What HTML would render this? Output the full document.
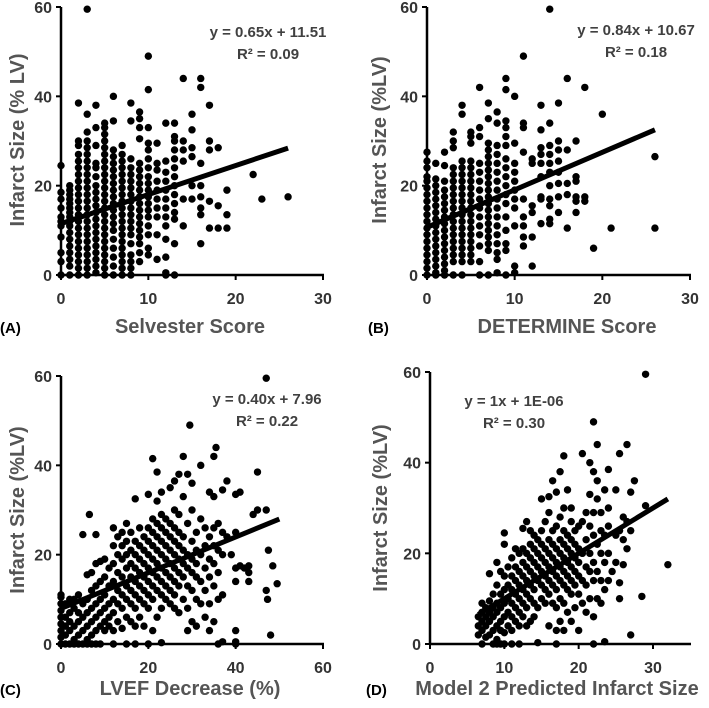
<!DOCTYPE html>
<html><head><meta charset="utf-8">
<style>
html,body{margin:0;padding:0;background:#fff;}
svg{display:block;font-family:"Liberation Sans",sans-serif;font-weight:bold;}
</style></head>
<body>
<svg id="fig" width="709" height="708" viewBox="0 0 709 708" xmlns="http://www.w3.org/2000/svg"></svg>
<script>
// ---------- data ----------
const selvesterScores = [0,1,2,3,4,5,6,7,8,9,10,11,12,13,14,15,16,17,18,19,22,23,26];
const selvesterInfarct = [
 [0,3,5,8.5,11,12,13,15,17,18.5,24.5],
 [0,2,3.5,5,6.5,8,9.5,11,12,13,14,15,16,17,18,19,20],
 [0,1.5,3,4.5,6,7.5,9,10.5,12,13.5,15,16.5,18,19.5,21,22.5,24,25.5,27,29,30,38.5],
 [0,1.5,3,4.5,6,7.5,9,10.5,12,13.5,15,16.5,18,19.5,21,22.5,24,25.5,27,28.5,30,32,36,59.5],
 [0.5,2,3.5,5,6.5,8,9.5,11,12.5,14,15.5,17,18.5,20,22,24,25,29,33,38],
 [0,1.5,3,4.5,6,7.5,9,10.5,12,13.5,15,16.5,18,19.5,21,22.5,24,25.5,27,28.5,30,31.5,33,34],
 [0,2,4,6,8,10,11.5,13,14.5,16,17.5,19,20.5,22,23.5,25,26.5,28,34.5,40],
 [0,1.5,3,4.5,6,7.5,9,10.5,12,13.5,15,16.5,18,19.5,21,22.5,24,25.5,27,29],
 [0,1.5,3,4.5,7,9,10.5,12,13.5,15,16.5,18,19.5,21,22.5,24,26,34.5,38.5],
 [3,5,7,8.5,10,11.5,13,14.5,16,17.5,19,20.5,22,23.5,25,30.5,33,35,36.5],
 [4.5,6,9,11,13,14.5,16,17.5,19,20.5,22,24,26,28,29.5,33,41.5,49],
 [3.5,9,13,15,17,19,21,23.5,25,29.5],
 [0,0.5,4,8,11,13,15,17,19,21,23,25.5,34],
 [0,7,12.5,14,16,18,20,22,24,26,28,30,31,34],
 [11,17,25.5,28,30,44],
 [17,20,26.5,28.5,32.5,36],
 [7,13.5,15,17.5,20,25,42,44],
 [10.5,16.5,28,30,38],
 [10.5,15.5,28.5],
 [10.5,13.5,19],
 [22.5],[17],[17.5]
];
const selvesterFit = [0.65, 11.51, 0, 26];

const determineScores = [0,1,2,3,4,5,6,7,8,9,10,11,12,13,14,15,16,17,18,19,20,21,26];
const determineInfarct = [
 [0,1.5,3,4.5,6,7.5,9,10.5,12,13.5,15,16.5,18,19.5,21,22,24,25.5,27.5],
 [0,0.5,2,3.5,5,6.5,8,9.5,11,12.5,14,15.5,17,18.5,20,21.5,25],
 [0,1,2.5,4,5.5,7,8.5,10,11.5,13,14.5,16,17.5,19,21,24.5,27.5],
 [0,3,4.5,6,7.5,9,10.5,12,13.5,15,16.5,18,19.5,21,22.5,24,28.5,30,32],
 [0,3,4.5,6,7.5,9,10.5,12,13.5,15,16.5,18,19.5,21,22.5,24,25.5,36,38],
 [3,4.5,6,7.5,9,10.5,12,13.5,15,16.5,18,19.5,21,22.5,24,25.5,29.5,31,32],
 [0,3,6.5,9,11,13,15,17,19,21,23,25,31,33,42],
 [0,5.5,7,8.5,10,11.5,13,14.5,16,17.5,19,20.5,22,23.5,25,26.5,28,29.5,35,38.5],
 [0.5,3.5,5,7,9,11,13,15,17,19,21,23,25,27,29,34,36.5],
 [0,5.5,7,10,13,16,18,20,22,24,26,29,31,33,34.5,41.5,44],
 [0.5,2,11,15,17,19,21,23,25,29.5,40],
 [6.5,8.5,11,13,17,27.5,33,34,49],
 [2,8.5,14,15.5,25,26],
 [11.5,17,17.5,22,25,27,28.5,32.5,38],
 [11.5,12.5,15.5,17,20,23,25,27,29,34,59.5],
 [14,17.5,20.5,23,25.5,28,30,38.5],
 [10.5,18,20.5,28,44],
 [14,16.5,17.5,21,22,30],
 [16.5,17.5,42],
 [6],[36],[10.5],[10.5,26.5]
];
const determineFit = [0.84, 10.67, 0, 26];

const lvefPoints = [
[0,0],[0,1.5],[0,3],[0,4.5],[0,6],[0,7.5],[0,9],[0,10.5],[0,11],
[1,0],[2,0],[3,0],[4,0],[5,0],[6,0],[7,0],[8,0],[9,0],[12,0],[15,0],[17,0],[20,0],[23,0.3],[36,0],[37,0.5],[40,0],[40,0.5],
[1,2],[1,4],[1,6],[1,9],[2,3],[2,5],[2,7],[2,10],[3,1],[3,4],[3,8],[3,10],[4,2],[4,5],[4,7],[4,11],[5,3],[5,6],[5,9],[5,24.5],
[6,1],[6,4],[6,7],[6,10],[6,15.5],[6.5,29],[7,2],[7,5],[7,8],[7,12],[7,16],[8,3],[8,6],[8,9],[8,13],[8,18],[8,24.5],
[9,4],[9,7],[9,10],[9,14],[9,18.5],[10,3],[10,5],[10,8],[10,11],[10,15],[10,19],[11,4],[11,6],[11,9],[11,13],[11,17],
[12,3],[12,7],[12,10],[12,14],[12,18],[12,22],[12,26],[13,5],[13,9],[13,12],[13,16],[13,20],[13,24],
[14,3.5],[14,8],[14,11],[14,15],[14,19],[14,22],[14,25],[15,6],[15,10],[15,13],[15,17],[15,20],[15,23],[15,27],
[16,5],[16,9],[16,12],[16,15],[16,18],[16,21],[16,25],[17,4],[17,8],[17,11],[17,14],[17,17],[17,20],[17,23],[17,32.5],
[18,6],[18,10],[18,13],[18,16],[18,19],[18,22],[18,26],[19,4],[19,9],[19,12],[19,15],[19,18],[19,21],[19,24],
[20,8],[20,11],[20,14],[20,17],[20,20],[20,23],[20,26],[20,33.5],[21,3],[21,10],[21,13],[21,16],[21,19],[21,22],[21,25],[21,28],[21,41.5],
[22,6],[22,12],[22,15],[22,18],[22,21],[22,24],[22,27],[22,32],[22,38.5],[23,8],[23,11],[23,14],[23,17],[23,20],[23,23],[23,26],[23,29],[23,34],
[24,10],[24,13],[24,16],[24,19],[24,22],[24,25],[24,28],[25,9],[25,12],[25,15],[25,18],[25,21],[25,24],[25,27],[25,35],
[26,8],[26,11],[26,14],[26,17],[26,20],[26,23],[26,26],[26,30],[26,36.5],[27,7],[27,13],[27,16],[27,19],[27,22],[27,25],[27,29],[27,38],
[28,10],[28,15],[28,18],[28,21],[28,24],[28,33],[28,42],[29,3],[29,8],[29,13],[29,17],[29,20],[29,27],[29,38],[29.5,49],
[30,5],[30,12],[30,16],[30,19],[30,23],[30,30],[30,36],[31,4],[31,10],[31,15],[31,18],[31,21],[31,25],
[32,9],[32,14],[32,20],[32,28],[32,40],[33,6],[33,12],[33,17],[33,22],[33,26],[34,3],[34,9],[34,15],[34,19],[34,24],[34,34],
[35,5],[35,13],[35,18],[35,22],[35,26],[35,33],[35,42],[35.5,44],[36,10],[36,16],[36,21],[36,27],[37,11],[37,20],[37,25],[37,34.5],
[38,24],[38,36.5],[39,20],[40,3],[40,14],[40,17],[40,25],[40,33.5],[41,17.5],[41,34],[42,17],[43,14],[43,16],[43,17.5],
[44,29],[45,30],[45,38.5],[47,12],[47,30],[47.3,10],[47,59.5],[47.5,21],[48,2],[48.5,17.5],[49.5,13.5]
];
const lvefFit = [0.40, 7.96, 0, 50];

const modelPoints = [
[7,0],[8.5,0],[9,0],[9.5,0],[10,0],[11,0],[12,0],[14.5,0.3],[17,0],[22,0],[23.5,0.5],[27,2],
[6.5,2],[6.5,4],[6.5,6],[7,3],[7,5],[7,7],[7,9],[7.5,1.5],[7.5,4],[7.5,6],[7.5,8],[8,2],[8,5],[8,7],[8,9.5],[8,15.5],
[8.5,3],[8.5,6],[8.5,8],[8.5,11],[9,1],[9,4],[9,7],[9,9],[9,13],[9,18],[9.5,3],[9.5,5],[9.5,8],[9.5,11],[9.5,16],
[10,2.5],[10,6],[10,9],[10,12],[10,15],[10,22],[10,24.5],[10.5,4],[10.5,7],[10.5,10],[10.5,13],[10.5,17],
[11,3],[11,6],[11,9],[11,12],[11,15],[11,19],[11.5,5],[11.5,8],[11.5,11],[11.5,14],[11.5,17],[11.5,21],
[12,4],[12,7],[12,10],[12,13],[12,16],[12,20],[12.5,6],[12.5,9],[12.5,12],[12.5,15],[12.5,18],[12.5,21],[12.5,25.5],
[13,4],[13,8],[13,11],[13,14],[13,17],[13,20],[13,27],[13.5,5],[13.5,10],[13.5,13],[13.5,16],[13.5,19],[13.5,22],[13.5,25],
[14,6],[14,9],[14,12],[14,15],[14,18],[14,21],[14,24],[14.5,8],[14.5,14],[14.5,17],[14.5,20],[14.5,23],
[15,10],[15,13],[15,16],[15,19],[15,22],[15,25],[15,32],[15.5,9],[15.5,12],[15.5,15],[15.5,18],[15.5,21],[15.5,27],
[16,4],[16,11],[16,14],[16,17],[16,20],[16,23],[16,29],[16,32.5],[16.5,9],[16.5,13],[16.5,16],[16.5,19],[16.5,22],[16.5,25],[16.5,36],
[17,3],[17,8],[17,12],[17,15],[17,18],[17,21],[17,26],[17,33.5],[17.5,5],[17.5,10],[17.5,14],[17.5,17],[17.5,20],[17.5,23],[17.5,28],[17.5,38],
[18,3],[18,9],[18,13],[18,16],[18,19],[18,22],[18,25],[18,30],[18,41.5],[18.5,7],[18.5,12],[18.5,15],[18.5,18],[18.5,21],[18.5,24],[18.5,34],
[19,5],[19,11],[19,14],[19,17],[19,20],[19,23],[19,27],[19,30],[19.5,8],[19.5,13],[19.5,16],[19.5,19],[19.5,22],[19.5,25],
[20,3],[20,11],[20,15],[20,18],[20,21],[20,26],[20.5,9],[20.5,14],[20.5,20],[20.5,27],[20.5,42],[21,7],[21,13],[21,17],[21,23],[21,29],
[21.5,10],[21.5,16],[21.5,20],[21.5,26],[21.5,33],[21.5,40],[22,6],[22,14],[22,18],[22,24],[22,29],[22,38],[22,49],
[22.5,10],[22.5,16],[22.5,22],[22.5,32],[22.5,36],[22.5,44],[23,9],[23,14],[23,20],[23,25],[23,29],[23.5,12],[23.5,18],[23.5,24],[23.5,34],
[24,14],[24,20],[24,26],[24,30],[24,38.5],[24.5,16],[25,18],[25,24],[25,34],[25.5,13.5],[25.5,10],[25.5,25],[25.5,42],
[26,17.5],[26,23],[26,28],[26.5,21],[26.5,27],[26.5,44],[27,25],[27,33.5],[27.5,36],[28.5,10.5],[29,30.5],[29,59.5],[32,17.5]
];
const modelFit = [1, 0.000001, 6.5, 32];

const xTicksScore = [0,10,20,30];
const xTicksLvef = [0,20,40,60];
const yTicks = [0,20,40,60];

// ---------- drawing ----------
const NS = "http://www.w3.org/2000/svg";
const svg = document.getElementById('fig');
function mk(tag, attrs, parent) {
  const e = document.createElementNS(NS, tag);
  for (const k in attrs) e.setAttribute(k, attrs[k]);
  (parent || svg).appendChild(e);
  return e;
}

function panel(p) {
  const g = mk('g', {});
  
  
  const sx = v => p.x0 + (v - p.xmin) / (p.xmax - p.xmin) * (p.x1 - p.x0);
  const sy = v => p.y0 - v / 60 * (p.y0 - p.y1);
  const pg = mk('g', {}, g);
  
  
  for (const [x, y] of p.points) {
    const c = mk('circle', {cx: sx(x), cy: sy(y), r: 3.7, fill: '#000'}, pg);
    
    
  }
  const ya = mk('line', {x1: p.x0, y1: sy(0) + 1, x2: p.x0, y2: sy(60), stroke: '#000', 'stroke-width': 2.5}, g);
  
  
  const xa = mk('line', {x1: p.x0 - 1, y1: sy(0), x2: p.xend, y2: sy(0), stroke: '#000', 'stroke-width': 2.5}, g);
  
  
  for (const t of yTicks) {
    mk('line', {x1: p.x0 - 5, y1: sy(t), x2: p.x0, y2: sy(t), stroke: '#000', 'stroke-width': 2}, g);
    const tl = mk('text', {x: p.x0 - 9, y: sy(t) + 6, 'text-anchor': 'end', 'font-size': 16, fill: '#333'}, g);
    tl.textContent = t;
    
    
  }
  for (const t of p.xticks) {
    mk('line', {x1: sx(t), y1: sy(0), x2: sx(t), y2: sy(0) + 5, stroke: '#000', 'stroke-width': 2}, g);
    const tl = mk('text', {x: sx(t), y: sy(0) + 29, 'text-anchor': 'middle', 'font-size': 16, fill: '#333'}, g);
    tl.textContent = t;
    
    
  }
  const [m, b, xa0, xa1] = p.fit;
  const tr = mk('line', {x1: sx(xa0), y1: sy(m * xa0 + b), x2: sx(xa1), y2: sy(m * xa1 + b), stroke: '#000', 'stroke-width': 5}, g);
  
  
  const e1 = mk('text', {x: p.eqx, y: p.eqy, 'text-anchor': 'middle', 'font-size': 15, fill: '#404040'}, g);
  e1.textContent = p.eq;
  
  
  const e2 = mk('text', {x: p.eqx, y: p.eqy + 22, 'text-anchor': 'middle', 'font-size': 15, fill: '#404040'}, g);
  e2.textContent = p.r2;
  
  
  const yt = mk('text', {x: 0, y: 0, transform: `translate(${p.ytx},${p.yty}) rotate(-90)`, 'text-anchor': 'middle', 'font-size': 20, fill: '#555'}, g);
  yt.textContent = p.ytitle;
  
  
  const xt = mk('text', {x: p.xtx, y: p.xty, 'text-anchor': 'middle', 'font-size': 20, fill: '#555'}, g);
  xt.textContent = p.xtitle;
  
  
  const lb = mk('text', {x: p.lx, y: p.xty, 'font-size': 15, fill: '#000'}, g);
  lb.textContent = p.label;
  
  
}

function colsToPoints(xs, ys) {
  const out = [];
  xs.forEach((x, i) => ys[i].forEach(y => out.push([x, y])));
  return out;
}

panel({name: 'panel-a-selvester', points: colsToPoints(selvesterScores, selvesterInfarct), fit: selvesterFit,
  x0: 61, x1: 323, xmin: 0, xmax: 30, xend: 324, y0: 275, y1: 7, xticks: xTicksScore,
  eq: 'y = 0.65x + 11.51', r2: 'R² = 0.09', eqx: 268, eqy: 37,
  ytitle: 'Infarct Size (% LV)', ytx: 24, yty: 140, xtitle: 'Selvester Score', xtx: 190, xty: 333, lx: 0, label: '(A)'});
panel({name: 'panel-b-determine', points: colsToPoints(determineScores, determineInfarct), fit: determineFit,
  x0: 427, x1: 690, xmin: 0, xmax: 30, xend: 691, y0: 275, y1: 7, xticks: xTicksScore,
  eq: 'y = 0.84x + 10.67', r2: 'R² = 0.18', eqx: 636, eqy: 35,
  ytitle: 'Infarct Size (%LV)', ytx: 386, yty: 140, xtitle: 'DETERMINE Score', xtx: 567, xty: 333, lx: 368, label: '(B)'});
panel({name: 'panel-c-lvef', points: lvefPoints, fit: lvefFit,
  x0: 61, x1: 323, xmin: 0, xmax: 60, xend: 324, y0: 644, y1: 376, xticks: xTicksLvef,
  eq: 'y = 0.40x + 7.96', r2: 'R² = 0.22', eqx: 267, eqy: 404,
  ytitle: 'Infarct Size (%LV)', ytx: 24, yty: 510, xtitle: 'LVEF Decrease (%)', xtx: 190, xty: 695, lx: 0, label: '(C)'});
panel({name: 'panel-d-model2', points: modelPoints, fit: modelFit,
  x0: 430, x1: 653, xmin: 0, xmax: 30, xend: 691, y0: 644, y1: 372, xticks: xTicksScore,
  eq: 'y = 1x + 1E-06', r2: 'R² = 0.30', eqx: 514, eqy: 406,
  ytitle: 'Infarct Size (%LV)', ytx: 387, yty: 508, xtitle: 'Model 2 Predicted Infarct Size', xtx: 557, xty: 695, lx: 366, label: '(D)'});
</script>
</body></html>
